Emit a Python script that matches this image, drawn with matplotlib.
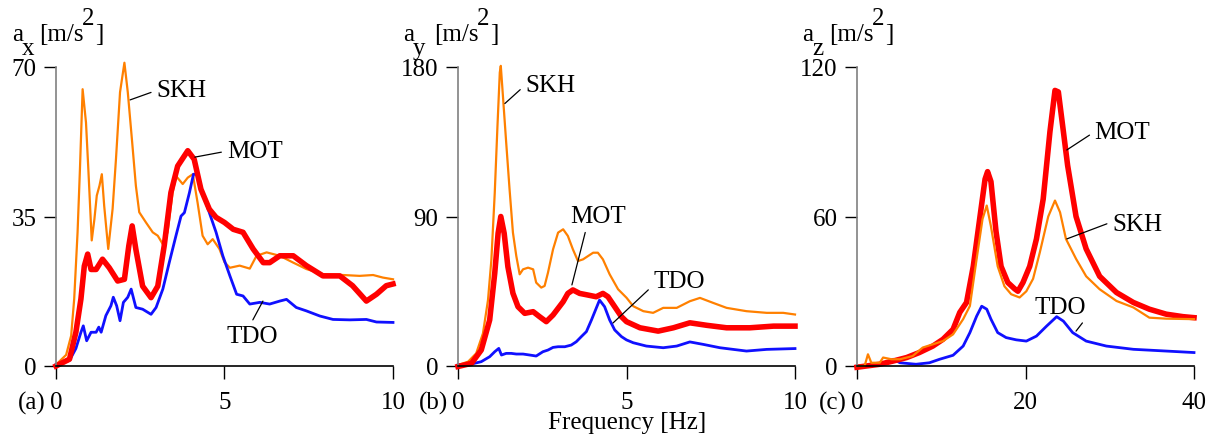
import numpy as np
import matplotlib
matplotlib.use("Agg")
import matplotlib.pyplot as plt

plt.rcParams['font.family'] = ['Liberation Serif', 'DejaVu Serif']
plt.rcParams['font.size'] = 18

ORANGE = '#ff8000'
RED = '#ff0000'
BLUE = '#1010ff'

# ---- panel (a): a_x ----
ax_skh_f = [0, 0.30, 0.45, 0.54, 0.64, 0.71, 0.79, 0.89, 0.96, 1.06, 1.14, 1.21, 1.29, 1.36, 1.43,
            1.55, 1.68, 1.78, 1.90, 2.03, 2.13, 2.26, 2.37, 2.47, 2.67, 2.87, 3.02, 3.17, 3.31,
            3.46, 3.56, 3.76, 3.91, 4.06, 4.20, 4.35, 4.50, 4.65, 4.85, 5.0, 5.16, 5.45, 5.75,
            5.95, 6.25, 6.64, 7.04, 7.43, 7.92, 8.52, 9.01, 9.41, 9.70, 10.0]
ax_skh = [0.3, 2.6, 7.1, 15.7, 31.3, 46, 64.8, 57, 46, 29.4, 34.4, 39.9, 42.2, 44.9, 37.5,
          27.4, 36.8, 48.5, 64.1, 71, 64.1, 52.4, 42.2, 36, 33.6, 31.3, 30.5, 28.5, 31.3,
          40.6, 44.5, 42.6, 44.1, 44.9, 38.3, 30.5, 28.5, 29.7, 27.4, 24.3, 23, 23.5, 22.8,
          25.8, 26.6, 25.8, 24.2, 22.7, 21.5, 21.3, 21.1, 21.3, 20.7, 20.3]

ax_mot_f = [0, 0.40, 0.59, 0.74, 0.84, 0.94, 1.04, 1.19, 1.38, 1.58, 1.83, 2.03, 2.16, 2.26, 2.37,
            2.57, 2.82, 3.02, 3.21, 3.41, 3.61, 3.91, 4.10, 4.30, 4.55, 4.75, 5.0, 5.26, 5.55,
            5.85, 6.15, 6.34, 6.64, 7.04, 7.43, 7.92, 8.42, 8.80, 9.21, 9.51, 9.80, 10.0]
ax_mot = [0, 1.6, 7.9, 15.7, 23.4, 26.2, 22.6, 22.6, 25, 23, 19.9, 20.3, 28.1, 32.8, 27.3,
          18.7, 16, 18.7, 28.1, 40.6, 46.8, 50.4, 48.4, 41.4, 36.7, 34.8, 33.6, 32, 31.3,
          27.4, 24.2, 24.2, 25.8, 25.8, 23.5, 21.1, 21.1, 18.8, 15.2, 16.8, 18.8, 19.2]

ax_tdo_f = [0, 0.40, 0.59, 0.74, 0.81, 0.91, 1.04, 1.19, 1.27, 1.34, 1.48, 1.63, 1.70, 1.80, 1.90,
            2.0, 2.13, 2.23, 2.37, 2.57, 2.82, 2.97, 3.17, 3.36, 3.56, 3.71, 3.81, 3.96, 4.08,
            4.20, 4.35, 4.55, 4.75, 4.95, 5.16, 5.36, 5.55, 5.75, 6.05, 6.34, 6.64, 6.84, 7.13,
            7.43, 7.83, 8.22, 8.72, 9.21, 9.51, 10.0]
ax_tdo = [0.3, 1.3, 4.1, 7.9, 9.4, 5.9, 7.9, 7.9, 9.1, 7.9, 11.8, 14.1, 16.1, 14.1, 10.6,
          14.9, 16.1, 18, 13.7, 13.3, 12.1, 13.7, 18, 24.2, 30.5, 35.1, 35.9, 40.6, 44.9,
          44.9, 40.6, 35.9, 31.3, 25.8, 21.1, 16.8, 16.4, 14.5, 14.9, 14.5, 15.2, 15.6, 13.7,
          12.9, 11.7, 10.9, 10.8, 10.9, 10.3, 10.2]

# ---- panel (b): a_y ----
ay_skh_f = [0, 0.30, 0.54, 0.74, 0.89, 0.99, 1.09, 1.17, 1.24, 1.27, 1.34, 1.43, 1.53, 1.63, 1.73,
            1.83, 1.93, 2.08, 2.23, 2.32, 2.47, 2.57, 2.67, 2.82, 2.97, 3.12, 3.26, 3.41, 3.56,
            3.71, 3.86, 4.01, 4.15, 4.30, 4.50, 4.75, 5.0, 5.20, 5.50, 5.79, 6.09, 6.49, 6.88,
            7.18, 7.57, 7.97, 8.56, 9.16, 9.65, 10.0]
ay_skh = [0.6, 2.6, 7.6, 19.6, 39.7, 63.8, 104, 144, 176.7, 180.7, 160.6, 134.5, 106.4, 80.3, 66.2,
          55.2, 58.2, 59.2, 58.2, 50.2, 47.2, 48.2, 56.2, 70.2, 80.3, 82.3, 78.3, 70.2, 63.2,
          64.2, 66.2, 68.2, 68.2, 64.2, 55.2, 46.2, 41.1, 36, 33, 32, 35,
          35, 39, 41, 38, 35, 33, 32, 32, 31]

ay_mot_f = [0, 0.40, 0.69, 0.94, 1.09, 1.19, 1.27, 1.37, 1.48, 1.63, 1.78, 1.98, 2.23, 2.42, 2.62,
            2.82, 2.97, 3.12, 3.26, 3.41, 3.61, 3.86, 4.10, 4.30, 4.45, 4.65, 4.85, 5.0, 5.40,
            5.94, 6.39, 6.88, 7.38, 7.97, 8.66, 9.36, 10.0]
ay_mot = [-0.3, 1.6, 9.6, 27.7, 55.8, 79.9, 90, 79.9, 59.8, 43.8, 35.7, 31.7, 32.7, 29.7, 26.7,
          30.7, 34.7, 38.7, 43.7, 45.8, 43.7, 42.7, 41.7, 43.7, 41.7, 35.7, 29.7, 26.7, 23,
          21, 23, 26, 24.5, 23, 23, 24, 24]

ay_tdo_f = [0, 0.40, 0.69, 0.94, 1.09, 1.21, 1.29, 1.43, 1.58, 1.73, 1.93, 2.13, 2.32, 2.52, 2.67,
            2.82, 2.97, 3.17, 3.36, 3.51, 3.66, 3.81, 3.96, 4.08, 4.20, 4.35, 4.50, 4.65, 4.85,
            5.0, 5.20, 5.59, 6.09, 6.49, 6.88, 7.28, 7.77, 8.56, 9.16, 10.0]
ay_tdo = [0.6, 1.2, 2.6, 5.6, 8.6, 10.6, 6.6, 7.6, 7.6, 7.2, 7.2, 6.6, 6, 8.6, 9.6,
          11.2, 11.6, 11.6, 12.6, 14.6, 17.7, 20.7, 27.7, 33.7, 39.7, 35.7, 27.7, 21.7, 17.7,
          15.7, 14, 12, 11, 12, 14.5, 13, 11, 9, 10, 10.5]

# ---- panel (c): a_z ----
az_mot_f = [0, 1.1, 2.7, 4.3, 5.9, 7.4, 9.0, 10.2, 11.4, 12.2, 13.0, 13.8, 14.6, 15.2, 15.5, 15.9,
            16.5, 17.1, 17.9, 18.7, 19.1, 19.7, 20.5, 21.3, 22.1, 22.9, 23.5, 23.9, 24.5, 25.0,
            26.0, 27.2, 28.8, 30.8, 32.8, 34.7, 36.7, 38.7, 40.0]
az_mot = [-0.5, 0, 0.7, 2, 3.4, 5.4, 8, 10.7, 14.7, 21.5, 25.5, 40, 60, 75, 78, 74,
          54, 40, 33.5, 31, 30, 33.5, 40, 51, 67, 94, 110.6, 110, 94, 80.5,
          60, 47, 36, 29.5, 25.5, 22.8, 20.8, 19.8, 19.4]

az_skh_f = [0, 0.9, 1.3, 1.7, 2.7, 3.1, 4.1, 5.1, 6.6, 7.8, 9.0, 10.2, 11.4, 12.6, 13.4, 14.2,
            14.9, 15.4, 15.9, 16.7, 17.5, 18.3, 19.3, 20.1, 20.9, 21.7, 22.7, 23.5, 24.1, 24.8,
            26.0, 27.2, 28.8, 30.8, 32.8, 34.7, 36.7, 40.0]
az_skh = [0, 0, 4.7, 1.3, 1.3, 3.4, 2.7, 2.7, 4, 7.4, 8.7, 10, 12.7, 18.8, 24.1, 43,
          59, 64.4, 56, 40, 32, 28.8, 27.5, 30, 35, 45.6, 60, 66.4, 61.7, 51,
          43, 36, 30.8, 26.1, 23.5, 19.4, 19, 18.8]

az_tdo_f = [0, 2.7, 4.3, 5.1, 7.0, 8.6, 9.8, 11.4, 12.6, 13.4, 14.2, 14.8, 15.4, 15.9, 16.7, 17.7,
            18.9, 20.1, 21.3, 22.5, 23.7, 24.5, 25.6, 27.2, 29.6, 32.8, 36.7, 40.0]
az_tdo = [0, 0.3, 2.7, 1.3, 0.7, 1.3, 2.7, 4.3, 8, 13.4, 20, 24, 22.8, 18.8, 13.4, 11.4,
          10.5, 10, 12, 16, 19.8, 18, 13.4, 10, 8, 6.7, 6, 5.4]

x_max = [10, 10, 40]
y_max = [70, 180, 120]
x_ticks = [[0, 5, 10], [0, 5, 10], [0, 20, 40]]
y_ticks = [[0, 35, 70], [0, 90, 180], [0, 60, 120]]
panel_tags = ['(a)', '(b)', '(c)']
comp_sub = ['x', 'y', 'z']

W, H = 1216, 439
fig = plt.figure(figsize=(W / 100, H / 100), dpi=100)

lefts = [56, 458, 857]
axes = []
for lpx in lefts:
    ax = fig.add_axes([lpx / W, (H - 367) / H, 337 / W, 299 / H])
    axes.append(ax)

data = [
    [(ax_skh_f, ax_skh, ORANGE, 1.6), (ax_tdo_f, ax_tdo, BLUE, 2.0), (ax_mot_f, ax_mot, RED, 4.0)],
    [(ay_skh_f, ay_skh, ORANGE, 1.6), (ay_tdo_f, ay_tdo, BLUE, 2.0), (ay_mot_f, ay_mot, RED, 4.0)],
    [(az_tdo_f, az_tdo, BLUE, 2.0), (az_mot_f, az_mot, RED, 4.0), (az_skh_f, az_skh, ORANGE, 1.6)],
]

for i, ax in enumerate(axes):
    for f, v, c, lw in data[i]:
        ax.plot(f, v, color=c, lw=lw, clip_on=False, solid_joinstyle='round')
    ax.set_xlim(0, x_max[i])
    ax.set_ylim(0, y_max[i])
    ax.set_xticks(x_ticks[i])
    ax.set_yticks(y_ticks[i])
    ax.spines['top'].set_visible(False)
    ax.spines['right'].set_visible(False)
    ax.spines['left'].set_color('#808080')
    ax.spines['left'].set_linewidth(1.2)
    ax.spines['bottom'].set_linewidth(1.2)
    ax.tick_params(axis='y', direction='out', length=9, width=1.0, pad=5, labelsize=18)
    ax.tick_params(axis='x', direction='out', length=9, width=1.0, pad=9, labelsize=18)
    ax.patch.set_alpha(0)

line_kw = dict(arrowstyle='-', color='black', lw=0.9, shrinkA=2, shrinkB=0)

# annotations panel (a)
axes[0].annotate('SKH', xy=(2.2, 62.3), xytext=(2.98, 64.5), ha='left', va='center',
                 arrowprops=dict(relpos=(0, 0.5), **line_kw))
axes[0].annotate('MOT', xy=(4.12, 48.9), xytext=(5.07, 50.3), ha='left', va='center',
                 arrowprops=dict(relpos=(0, 0.5), **line_kw))
axes[0].annotate('TDO', xy=(6.14, 15.2), xytext=(5.07, 7.0), ha='left', va='center',
                 arrowprops=dict(relpos=(0.45, 1), **line_kw))
# annotations panel (b)
axes[1].annotate('SKH', xy=(1.39, 158), xytext=(1.99, 169), ha='left', va='center',
                 arrowprops=dict(relpos=(0, 0.5), **line_kw))
axes[1].annotate('MOT', xy=(3.38, 48.8), xytext=(3.32, 90.3), ha='left', va='center',
                 arrowprops=dict(relpos=(0.3, 0), **line_kw))
axes[1].annotate('TDO', xy=(4.6, 25.9), xytext=(5.79, 51.2), ha='left', va='center',
                 arrowprops=dict(relpos=(0, 0.3), **line_kw))
# annotations panel (c)
axes[2].annotate('MOT', xy=(24.9, 86.7), xytext=(28.2, 94), ha='left', va='center',
                 arrowprops=dict(relpos=(0, 0.5), **line_kw))
axes[2].annotate('SKH', xy=(24.9, 51), xytext=(30.3, 57), ha='left', va='center',
                 arrowprops=dict(relpos=(0, 0.6), **line_kw))
axes[2].annotate('TDO', xy=(26.0, 14), xytext=(21.1, 23.7), ha='left', va='center',
                 arrowprops=dict(relpos=(1, 0), **line_kw))


def px(x, y):
    return x / W, 1 - y / H


# y-axis labels a_x [m/s^2] etc.
label_left = [12, 403, 802]
bracket_shift = [0, 4, 0]
for i, x0 in enumerate(label_left):
    fig.text(*px(x0, 35), 'a', ha='left', va='center')
    fig.text(*px(x0 + 10, 49), comp_sub[i], ha='left', va='center')
    fig.text(*px(x0 + 27 + bracket_shift[i], 35), '[m/s', ha='left', va='center')
    fig.text(*px(x0 + 70 + bracket_shift[i], 19), '2', ha='left', va='center')
    fig.text(*px(x0 + 83 + bracket_shift[i], 35), ']', ha='left', va='center')

for i, lpx in enumerate(lefts):
    fig.text(*px(lpx - 24, 403), panel_tags[i], ha='center', va='center')

fig.text(*px(627, 423), 'Frequency [Hz]', ha='center', va='center')

fig.savefig('out.png', dpi=100)
